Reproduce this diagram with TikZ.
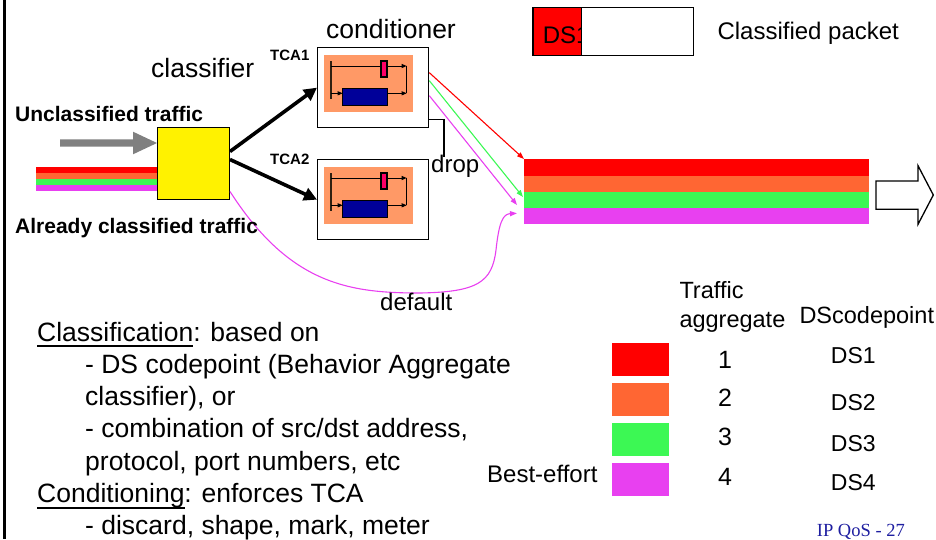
\documentclass[tikz,border=0pt]{standalone}
\usepackage{fontspec}
\setmainfont{Liberation Sans}
\newfontfamily\serifqos{Liberation Serif}
\usetikzlibrary{arrows.meta}
\definecolor{dsred}{RGB}{255,0,0}
\definecolor{dsorange}{RGB}{255,102,51}
\definecolor{dsgreen}{RGB}{60,248,84}
\definecolor{dsmag}{RGB}{232,64,240}
\definecolor{tcaorange}{RGB}{255,153,102}
\definecolor{tcapink}{RGB}{255,0,102}
\definecolor{tcablue}{RGB}{0,0,153}
\definecolor{qosblue}{RGB}{30,30,160}
\definecolor{grayarrow}{RGB}{128,128,128}
\newcommand{\myul}[1]{\setbox0\hbox{#1}\rlap{\rule[-6pt]{\wd0}{1.8pt}}\box0}
\begin{document}
\begin{tikzpicture}[x=1pt,y=-1pt,
  txt/.style={inner sep=0pt,anchor=base west,font=\fontsize{24}{28}\selectfont},
  bigtxt/.style={inner sep=0pt,anchor=base west,font=\fontsize{26.5}{31}\selectfont},
  boldtxt/.style={inner sep=0pt,anchor=base west,font=\fontsize{21}{25}\selectfont\bfseries},
  tcalabel/.style={inner sep=0pt,anchor=base west,font=\fontsize{15}{18}\selectfont\bfseries},
  tcabox/.style={draw=black,line width=1.3pt,fill=white,minimum width=111pt,minimum height=80pt,inner sep=0pt,anchor=north west},
  stripe/.style={inner sep=0pt,anchor=north west,minimum width=345pt,minimum height=16.3pt},
  legbox/.style={inner sep=0pt,anchor=north west,minimum width=57pt,minimum height=33pt},
  thickarrow/.style={line width=3.6pt,-{Triangle[length=13pt,width=13pt]}},
  thinarrow/.style={line width=1.1pt,-{Triangle[length=7pt,width=5pt]}},
  tinyarrow/.style={line width=0.9pt,-{Triangle[length=5pt,width=4pt]}},
]
\useasboundingbox (0,0) rectangle (936,539);
% left border line
\draw[line width=2.7pt] (4.7,0) -- (4.7,539);

% incoming already classified stripes
\fill[dsred] (36,167) rectangle (157,173);
\fill[dsorange] (36,173) rectangle (157,179);
\fill[dsgreen] (36,179) rectangle (157,185);
\fill[dsmag] (36,185) rectangle (157,191);
% gray arrow
\fill[grayarrow] (60,139.3) -- (133,139.3) -- (133,131.7) -- (157,143) -- (133,154.3) -- (133,146.7) -- (60,146.7) -- cycle;

% classifier box
\node[draw=black,line width=1pt,fill=yellow,minimum width=72pt,minimum height=72pt,inner sep=0pt,anchor=north west] (cls) at (157,127) {};

% conditioner boxes
\node[tcabox] (tca1) at (317,47) {};
\node[tcabox] (tca2) at (317,159) {};
\foreach \b in {tca1,tca2}{
  \begin{scope}[shift={(\b.north west)}]
    \fill[tcaorange] (7,8) rectangle (96,65);
    \draw[line width=1.8pt,black!75!brown] (14,14) -- (14,52);
    \draw[line width=0.9pt] (14,19) -- (64,19);
    \draw[line width=1.2pt,fill=tcapink] (64,14) rectangle (70,30);
    \draw[tinyarrow] (70,19) -- (89.7,19);
    \draw[line width=0.9pt] (89.7,19) -- (89.7,46.3);
    \draw[tinyarrow] (14,46.3) -- (25.7,46.3);
    \draw[line width=1.2pt,fill=tcablue] (25.7,41.3) rectangle (70.7,58.7);
    \draw[tinyarrow] (70.7,46.3) -- (89.7,46.3);
  \end{scope}
}
\node[tcalabel] (l1) at (270,60) {TCA1};
\node[tcalabel] (l2) at (270,164) {TCA2};

% thick arrows from classifier
\draw[thickarrow] ([yshift=12pt]cls.east) -- (tca1.west);
\draw[thickarrow] ([yshift=4pt]cls.east) -- (tca2.west);

% main output stripes
\node[stripe,fill=dsred] (s1) at (524,159) {};
\node[stripe,fill=dsorange] (s2) at (524,175.3) {};
\node[stripe,fill=dsgreen] (s3) at (524,191.6) {};
\node[stripe,fill=dsmag] (s4) at (524,207.9) {};
\coordinate (tipg) at (523,197);
\coordinate (tipm1) at (517,205);
\coordinate (tipm2) at (517,213.3);

% colored arrows out of TCA1
\draw[thinarrow,dsred] ([yshift=15pt]tca1.east) -- (s1.north west);
\draw[thinarrow,dsgreen] ([yshift=7pt]tca1.east) -- (tipg);
\draw[thinarrow,dsmag] ([yshift=-8pt]tca1.east) -- (tipm1);

% drop
\node[txt] (drop) at (431,172) {drop};
\coordinate (dropend) at (444,157);
\draw[line width=1.1pt] ([yshift=-32pt]tca1.east) -| (dropend);

% default path
\draw[thinarrow,dsmag] ([yshift=-28pt]cls.east) .. controls (290,285) and (350,293) .. (420,293)
  .. controls (478,292) and (492,282) .. (496,250)
  .. controls (499,222) and (503,214) .. (tipm2);
\node[txt] (default) at (380,310) {default};

% big output arrow
\draw[line width=1.3pt,fill=white] (876,181) -- (918,181) -- (918,165.7) -- (933.3,195) -- (918,224.3) -- (918,209.3) -- (876,209.3) -- cycle;

% classified packet
\node[draw=black,line width=1.3pt,fill=dsred,minimum width=48.4pt,minimum height=48pt,inner sep=0pt,anchor=north west] (pkhead) at (532.3,7) {};
\node[txt] (pkds) at (542.7,43.3) {DS1};
\node[draw=black,line width=1.3pt,fill=white,minimum width=112.3pt,minimum height=48pt,inner sep=0pt,anchor=north west] (pkbody) at (580.7,7) {};
\node[txt] (pklabel) at (717.3,39) {Classified packet};

% titles
\node[bigtxt] (condtitle) at (326,38) {conditioner};
\node[bigtxt] (clstitle) at (151,77.7) {classifier};
\node[boldtxt] (unclass) at (15,121.5) {Unclassified traffic};
\node[boldtxt] (already) at (15,233) {Already classified traffic};

% body text
\node[bigtxt] (b1) at (37,341) {\myul{Classification}: based on};
\node[bigtxt] (b2) at (85,373.3) {- DS codepoint (Behavior Aggregate};
\node[bigtxt] (b3) at (85,405.5) {classifier), or};
\node[bigtxt] (b4) at (85,437.8) {- combination of src/dst address,};
\node[bigtxt] (b5) at (85,470) {protocol, port numbers, etc};
\node[bigtxt] (b6) at (37,502.5) {\myul{Conditioning}: enforces TCA};
\node[bigtxt] (b7) at (85,534.5) {- discard, shape, mark, meter};

% legend
\node[txt,font=\fontsize{23.5}{28}\selectfont] (h1a) at (679.3,298.3) {Traffic};
\node[txt,font=\fontsize{23.5}{28}\selectfont] (h1b) at (679.3,327.3) {aggregate};
\node[txt,font=\fontsize{23.5}{28}\selectfont] (h2) at (799.3,323.3) {DScodepoint};
\node[legbox,fill=dsred] (g1) at (612,342.7) {};
\node[legbox,fill=dsorange] (g2) at (612,382.7) {};
\node[legbox,fill=dsgreen] (g3) at (612,422.7) {};
\node[legbox,fill=dsmag] (g4) at (612,462.7) {};
\node[inner sep=0pt,anchor=base,font=\fontsize{25}{30}\selectfont] (n1) at (725,368.3) {1};
\node[inner sep=0pt,anchor=base,font=\fontsize{25}{30}\selectfont] (n2) at (725,406.7) {2};
\node[inner sep=0pt,anchor=base,font=\fontsize{25}{30}\selectfont] (n3) at (725,445.7) {3};
\node[inner sep=0pt,anchor=base,font=\fontsize{25}{30}\selectfont] (n4) at (725,485) {4};
\node[inner sep=0pt,anchor=base,font=\fontsize{23}{28}\selectfont] (d1) at (853.3,363.3) {DS1};
\node[inner sep=0pt,anchor=base,font=\fontsize{23}{28}\selectfont] (d2) at (853.3,410) {DS2};
\node[inner sep=0pt,anchor=base,font=\fontsize{23}{28}\selectfont] (d3) at (853.3,451) {DS3};
\node[inner sep=0pt,anchor=base,font=\fontsize{23}{28}\selectfont] (d4) at (853.3,490.7) {DS4};
\node[txt] (best) at (487,482.3) {Best-effort};
\node[inner sep=0pt,anchor=base west,font=\serifqos\fontsize{18.5}{22}\selectfont,text=qosblue] (qos) at (816.7,536.7) {IP QoS - 27};
\end{tikzpicture}
\end{document}
